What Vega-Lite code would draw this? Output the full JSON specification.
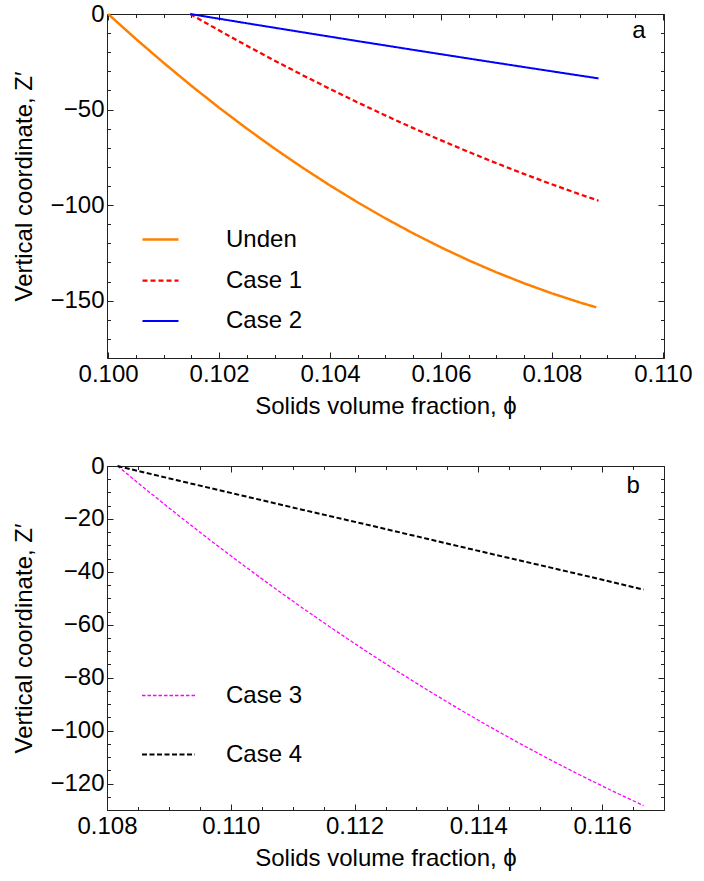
{
  "$schema": "https://vega.github.io/schema/vega-lite/v6.json",
  "padding": {"left": 12, "top": 1, "right": 5, "bottom": 5},
  "background": "white",
  "spacing": 108,
  "bounds": "flush",
  "resolve": {
    "scale": {"color": "independent", "strokeDash": "independent", "strokeWidth": "independent"},
    "legend": {"color": "independent", "strokeDash": "independent", "strokeWidth": "independent"}
  },
  "config": {
    "font": "Liberation Sans",
    "view": {"stroke": "#222", "strokeWidth": 1},
    "axis": {"labelFont": "Liberation Sans", "labelFontSize": 24, "labelColor": "#000", "titleFont": "Liberation Sans", "titleFontSize": 24, "titleFontWeight": "normal", "titleColor": "#000", "grid": false, "domain": false, "tickColor": "#222", "tickWidth": 1, "labelFlush": false, "labelOverlap": false},
    "legend": {"labelFont": "Liberation Sans", "labelFontSize": 24, "labelColor": "#000"}
  },
  "vconcat": [
    {
      "width": 557,
      "height": 344,
      "data": {"values": [
        {"series": "Unden", "phi": 0.1000, "z": 0},
        {"series": "Unden", "phi": 0.1005, "z": -13.03},
        {"series": "Unden", "phi": 0.1010, "z": -25.54},
        {"series": "Unden", "phi": 0.1015, "z": -37.53},
        {"series": "Unden", "phi": 0.1020, "z": -49.02},
        {"series": "Unden", "phi": 0.1025, "z": -59.97},
        {"series": "Unden", "phi": 0.1030, "z": -70.40},
        {"series": "Unden", "phi": 0.1035, "z": -80.32},
        {"series": "Unden", "phi": 0.1040, "z": -89.71},
        {"series": "Unden", "phi": 0.1045, "z": -98.59},
        {"series": "Unden", "phi": 0.1050, "z": -106.95},
        {"series": "Unden", "phi": 0.1055, "z": -114.79},
        {"series": "Unden", "phi": 0.1060, "z": -122.11},
        {"series": "Unden", "phi": 0.1065, "z": -128.91},
        {"series": "Unden", "phi": 0.1070, "z": -135.18},
        {"series": "Unden", "phi": 0.1075, "z": -140.94},
        {"series": "Unden", "phi": 0.1080, "z": -146.18},
        {"series": "Unden", "phi": 0.1085, "z": -150.91},
        {"series": "Unden", "phi": 0.1088, "z": -153.49},
        {"series": "Case 1", "phi": 0.10148, "z": 0},
        {"series": "Case 1", "phi": 0.10198, "z": -8.26},
        {"series": "Case 1", "phi": 0.10248, "z": -16.28},
        {"series": "Case 1", "phi": 0.10298, "z": -24.07},
        {"series": "Case 1", "phi": 0.10348, "z": -31.62},
        {"series": "Case 1", "phi": 0.10398, "z": -38.93},
        {"series": "Case 1", "phi": 0.10448, "z": -46.00},
        {"series": "Case 1", "phi": 0.10498, "z": -52.85},
        {"series": "Case 1", "phi": 0.10548, "z": -59.45},
        {"series": "Case 1", "phi": 0.10598, "z": -65.82},
        {"series": "Case 1", "phi": 0.10648, "z": -71.95},
        {"series": "Case 1", "phi": 0.10698, "z": -77.84},
        {"series": "Case 1", "phi": 0.10748, "z": -83.50},
        {"series": "Case 1", "phi": 0.10798, "z": -88.92},
        {"series": "Case 1", "phi": 0.10848, "z": -94.11},
        {"series": "Case 1", "phi": 0.10884, "z": -97.70},
        {"series": "Case 2", "phi": 0.10148, "z": 0},
        {"series": "Case 2", "phi": 0.10248, "z": -4.75},
        {"series": "Case 2", "phi": 0.10348, "z": -9.44},
        {"series": "Case 2", "phi": 0.10448, "z": -14.09},
        {"series": "Case 2", "phi": 0.10548, "z": -18.67},
        {"series": "Case 2", "phi": 0.10648, "z": -23.21},
        {"series": "Case 2", "phi": 0.10748, "z": -27.69},
        {"series": "Case 2", "phi": 0.10848, "z": -32.12},
        {"series": "Case 2", "phi": 0.10884, "z": -33.70}
      ]},
      "resolve": {"axis": {"x": "independent", "y": "independent"}},
      "layer": [
        {
          "mark": {"type": "line"},
          "encoding": {
            "x": {"field": "phi", "type": "quantitative", "scale": {"domain": [0.09998, 0.11002], "nice": false, "zero": false},
              "axis": {"orient": "bottom", "values": [0.1, 0.102, 0.104, 0.106, 0.108, 0.11], "format": ".3f", "labelFlush": false, "labelAlign": "center", "tickSize": -6, "labelPadding": 10, "title": "Solids volume fraction, ϕ", "titlePadding": 8}},
            "y": {"field": "z", "type": "quantitative", "scale": {"domain": [-180, 0], "nice": false, "zero": false},
              "axis": {"orient": "left", "values": [0, -50, -100, -150], "labelFlush": false, "tickSize": -6, "labelPadding": 9, "title": "Vertical coordinate, Z′", "titlePadding": 13}},
            "color": {"field": "series", "type": "nominal", "scale": {"domain": ["Unden", "Case 1", "Case 2"], "range": ["#FF8000", "#FF0000", "#0000FF"]},
              "legend": {"orient": "none", "legendX": 34, "legendY": 206, "title": null, "padding": 0, "symbolType": "stroke", "symbolSize": 1296, "labelOffset": 46, "rowPadding": 9}},
            "strokeDash": {"field": "series", "type": "nominal", "scale": {"domain": ["Unden", "Case 1", "Case 2"], "range": [[1, 0], [5, 3], [1, 0]]}},
            "strokeWidth": {"field": "series", "type": "nominal", "scale": {"domain": ["Unden", "Case 1", "Case 2"], "range": [2.5, 2, 1]}}
          }
        },
        {
          "mark": {"type": "point", "opacity": 0},
          "encoding": {
            "x": {"field": "phi", "type": "quantitative", "axis": {"orient": "bottom", "values": [0.1, 0.1005, 0.101, 0.1015, 0.102, 0.1025, 0.103, 0.1035, 0.104, 0.1045, 0.105, 0.1055, 0.106, 0.1065, 0.107, 0.1075, 0.108, 0.1085, 0.109, 0.1095, 0.11], "tickSize": -3.5, "labels": false, "title": null}},
            "y": {"field": "z", "type": "quantitative", "axis": {"orient": "left", "values": [0, -10, -20, -30, -40, -50, -60, -70, -80, -90, -100, -110, -120, -130, -140, -150, -160, -170, -180], "tickSize": -3.5, "labels": false, "title": null}}
          }
        },
        {
          "mark": {"type": "point", "opacity": 0},
          "encoding": {
            "x": {"field": "phi", "type": "quantitative", "axis": {"orient": "top", "values": [0.1, 0.102, 0.104, 0.106, 0.108, 0.11], "tickSize": -6, "labels": false, "title": null}},
            "y": {"field": "z", "type": "quantitative", "axis": {"orient": "right", "values": [0, -50, -100, -150], "tickSize": -6, "labels": false, "title": null}}
          }
        },
        {
          "mark": {"type": "point", "opacity": 0},
          "encoding": {
            "x": {"field": "phi", "type": "quantitative", "axis": {"orient": "top", "values": [0.1, 0.1005, 0.101, 0.1015, 0.102, 0.1025, 0.103, 0.1035, 0.104, 0.1045, 0.105, 0.1055, 0.106, 0.1065, 0.107, 0.1075, 0.108, 0.1085, 0.109, 0.1095, 0.11], "tickSize": -3.5, "labels": false, "title": null}},
            "y": {"field": "z", "type": "quantitative", "axis": {"orient": "right", "values": [0, -10, -20, -30, -40, -50, -60, -70, -80, -90, -100, -110, -120, -130, -140, -150, -160, -170, -180], "tickSize": -3.5, "labels": false, "title": null}}
          }
        },
        {
          "data": {"values": [{"phi": 0.10957, "z": -8.9, "label": "a"}]},
          "mark": {"type": "text", "fontSize": 24, "font": "Liberation Sans", "align": "center", "baseline": "middle", "color": "#000"},
          "encoding": {
            "x": {"field": "phi", "type": "quantitative", "axis": null},
            "y": {"field": "z", "type": "quantitative", "axis": null},
            "text": {"field": "label"}
          }
        }
      ]
    },
    {
      "width": 557,
      "height": 344,
      "data": {"values": [
        {"series": "Case 3", "phi": 0.10817, "z": 0},
        {"series": "Case 3", "phi": 0.10867, "z": -9.62},
        {"series": "Case 3", "phi": 0.10917, "z": -18.98},
        {"series": "Case 3", "phi": 0.10967, "z": -28.08},
        {"series": "Case 3", "phi": 0.11017, "z": -36.93},
        {"series": "Case 3", "phi": 0.11067, "z": -45.51},
        {"series": "Case 3", "phi": 0.11117, "z": -53.84},
        {"series": "Case 3", "phi": 0.11167, "z": -61.90},
        {"series": "Case 3", "phi": 0.11217, "z": -69.71},
        {"series": "Case 3", "phi": 0.11267, "z": -77.26},
        {"series": "Case 3", "phi": 0.11317, "z": -84.55},
        {"series": "Case 3", "phi": 0.11367, "z": -91.58},
        {"series": "Case 3", "phi": 0.11417, "z": -98.35},
        {"series": "Case 3", "phi": 0.11467, "z": -104.86},
        {"series": "Case 3", "phi": 0.11517, "z": -111.12},
        {"series": "Case 3", "phi": 0.11567, "z": -117.11},
        {"series": "Case 3", "phi": 0.11617, "z": -122.85},
        {"series": "Case 3", "phi": 0.11667, "z": -128.32},
        {"series": "Case 4", "phi": 0.10817, "z": 0},
        {"series": "Case 4", "phi": 0.10917, "z": -5.6},
        {"series": "Case 4", "phi": 0.11017, "z": -11.1},
        {"series": "Case 4", "phi": 0.11117, "z": -16.6},
        {"series": "Case 4", "phi": 0.11217, "z": -22.0},
        {"series": "Case 4", "phi": 0.11317, "z": -27.5},
        {"series": "Case 4", "phi": 0.11417, "z": -33.0},
        {"series": "Case 4", "phi": 0.11517, "z": -38.4},
        {"series": "Case 4", "phi": 0.11617, "z": -43.9},
        {"series": "Case 4", "phi": 0.11667, "z": -46.7}
      ]},
      "resolve": {"axis": {"x": "independent", "y": "independent"}},
      "layer": [
        {
          "mark": {"type": "line"},
          "encoding": {
            "x": {"field": "phi", "type": "quantitative", "scale": {"domain": [0.108, 0.117], "nice": false, "zero": false},
              "axis": {"orient": "bottom", "values": [0.108, 0.11, 0.112, 0.114, 0.116], "format": ".3f", "labelFlush": false, "labelAlign": "center", "tickSize": -6, "labelPadding": 10, "title": "Solids volume fraction, ϕ", "titlePadding": 8}},
            "y": {"field": "z", "type": "quantitative", "scale": {"domain": [-130, 0], "nice": false, "zero": false},
              "axis": {"orient": "left", "values": [0, -20, -40, -60, -80, -100, -120], "labelFlush": false, "tickSize": -6, "labelPadding": 9, "title": "Vertical coordinate, Z′", "titlePadding": 13}},
            "color": {"field": "series", "type": "nominal", "scale": {"domain": ["Case 3", "Case 4"], "range": ["#FF00FF", "#000000"]},
              "legend": {"orient": "none", "legendX": 34, "legendY": 202, "title": null, "padding": 0, "symbolType": "stroke", "symbolSize": 2809, "labelOffset": 30, "rowPadding": 19}},
            "strokeDash": {"field": "series", "type": "nominal", "scale": {"domain": ["Case 3", "Case 4"], "range": [[3.5, 2], [5, 2.5]]}},
            "strokeWidth": {"field": "series", "type": "nominal", "scale": {"domain": ["Case 3", "Case 4"], "range": [1.3, 2]}}
          }
        },
        {
          "mark": {"type": "point", "opacity": 0},
          "encoding": {
            "x": {"field": "phi", "type": "quantitative", "axis": {"orient": "bottom", "values": [0.108, 0.1085, 0.109, 0.1095, 0.11, 0.1105, 0.111, 0.1115, 0.112, 0.1125, 0.113, 0.1135, 0.114, 0.1145, 0.115, 0.1155, 0.116, 0.1165, 0.117], "tickSize": -3.5, "labels": false, "title": null}},
            "y": {"field": "z", "type": "quantitative", "axis": {"orient": "left", "values": [0, -5, -10, -15, -20, -25, -30, -35, -40, -45, -50, -55, -60, -65, -70, -75, -80, -85, -90, -95, -100, -105, -110, -115, -120, -125, -130], "tickSize": -3.5, "labels": false, "title": null}}
          }
        },
        {
          "mark": {"type": "point", "opacity": 0},
          "encoding": {
            "x": {"field": "phi", "type": "quantitative", "axis": {"orient": "top", "values": [0.108, 0.11, 0.112, 0.114, 0.116], "tickSize": -6, "labels": false, "title": null}},
            "y": {"field": "z", "type": "quantitative", "axis": {"orient": "right", "values": [0, -20, -40, -60, -80, -100, -120], "tickSize": -6, "labels": false, "title": null}}
          }
        },
        {
          "mark": {"type": "point", "opacity": 0},
          "encoding": {
            "x": {"field": "phi", "type": "quantitative", "axis": {"orient": "top", "values": [0.108, 0.1085, 0.109, 0.1095, 0.11, 0.1105, 0.111, 0.1115, 0.112, 0.1125, 0.113, 0.1135, 0.114, 0.1145, 0.115, 0.1155, 0.116, 0.1165, 0.117], "tickSize": -3.5, "labels": false, "title": null}},
            "y": {"field": "z", "type": "quantitative", "axis": {"orient": "right", "values": [0, -5, -10, -15, -20, -25, -30, -35, -40, -45, -50, -55, -60, -65, -70, -75, -80, -85, -90, -95, -100, -105, -110, -115, -120, -125, -130], "tickSize": -3.5, "labels": false, "title": null}}
          }
        },
        {
          "data": {"values": [{"phi": 0.1165, "z": -7.6, "label": "b"}]},
          "mark": {"type": "text", "fontSize": 24, "font": "Liberation Sans", "align": "center", "baseline": "middle", "color": "#000"},
          "encoding": {
            "x": {"field": "phi", "type": "quantitative", "axis": null},
            "y": {"field": "z", "type": "quantitative", "axis": null},
            "text": {"field": "label"}
          }
        }
      ]
    }
  ]
}
